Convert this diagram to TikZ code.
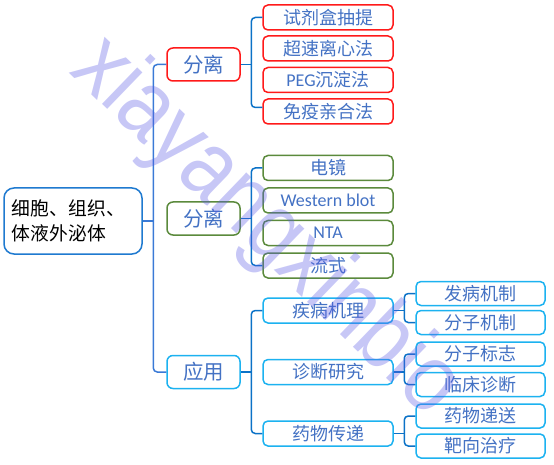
\documentclass[tikz,border=0pt]{standalone}
\usepackage{fontspec}
\usetikzlibrary{calc}
\setmainfont{Carlito}
\newfontfamily\cjk{Noto Sans CJK SC}
\newfontfamily\wmfont{Liberation Sans}
\definecolor{txtblue}{HTML}{4472C4}
\definecolor{bxred}{HTML}{FF1A1A}
\definecolor{bxgreen}{HTML}{5B8A3C}
\definecolor{bxcyan}{HTML}{1CB2F0}
\definecolor{bxroot}{HTML}{1F7AD0}
\definecolor{brmain}{HTML}{3A7AD6}
\definecolor{brsub}{HTML}{0B72C7}
\definecolor{wmcol}{HTML}{5A5AE6}
\tikzset{
  rootbox/.style={draw=bxroot, line width=1.5pt, rounded corners=10pt, fill=white,
    minimum width=138pt, minimum height=66pt, inner sep=0pt, align=left, text width=122pt,
    font=\cjk\fontsize{18.8}{25}\selectfont, text=black},
  lonebox/.style={line width=1.5pt, rounded corners=6pt, fill=white,
    minimum width=73pt, minimum height=33pt, inner sep=0pt,
    font=\cjk\fontsize{20.5}{24}\selectfont, text=txtblue},
  ltwobox/.style={line width=1.5pt, rounded corners=5pt, fill=white,
    minimum width=130pt, minimum height=25pt, inner sep=0pt,
    font=\cjk\fontsize{18}{20}\selectfont, text=txtblue},
  lthreebox/.style={draw=bxcyan, line width=1.5pt, rounded corners=5pt, fill=white,
    minimum width=129pt, minimum height=24pt, inner sep=0pt,
    font=\cjk\fontsize{18}{20}\selectfont, text=txtblue},
  latin/.style={font=\fontsize{18}{20}\selectfont},
  brm/.style={draw=brmain, line width=1.5pt, rounded corners=4pt},
  brs/.style={draw=brsub, line width=1.5pt, rounded corners=4pt},
}
\begin{document}
\begin{tikzpicture}[x=1pt,y=-1pt]
\useasboundingbox (0,0) rectangle (554,465);
% root
\node[rootbox] (root) at (73,221) {细胞、组织、\\体液外泌体};
% level 1
\node[lonebox, draw=bxred] (sep1) at (203.5,64.5) {分离};
\node[lonebox, draw=bxgreen] (sep2) at (203.5,218.5) {分离};
\node[lonebox, draw=bxcyan] (app) at (203.5,372) {应用};
% level 2 red
\node[ltwobox, draw=bxred] (r1) at (328,17.5) {试剂盒抽提};
\node[ltwobox, draw=bxred] (r2) at (328,48.5) {超速离心法};
\node[ltwobox, draw=bxred] (r3) at (328,80) {{\fontspec{Carlito}PEG}沉淀法};
\node[ltwobox, draw=bxred] (r4) at (328,111.5) {免疫亲合法};
% level 2 green
\node[ltwobox, draw=bxgreen] (g1) at (328,168) {电镜};
\node[ltwobox, draw=bxgreen, latin] (g2) at (328,200.5) {Western blot};
\node[ltwobox, draw=bxgreen, latin] (g3) at (328,233) {NTA};
\node[ltwobox, draw=bxgreen] (g4) at (328,265.5) {流式};
% level 2 cyan
\node[ltwobox, draw=bxcyan] (c1) at (328,310.5) {疾病机理};
\node[ltwobox, draw=bxcyan] (c2) at (328,372) {诊断研究};
\node[ltwobox, draw=bxcyan] (c3) at (328,433.5) {药物传递};
% level 3
\node[lthreebox] (d1) at (480.5,293.5) {发病机制};
\node[lthreebox] (d2) at (480.5,322.5) {分子机制};
\node[lthreebox] (d3) at (480.5,354) {分子标志};
\node[lthreebox] (d4) at (480.5,384.5) {临床诊断};
\node[lthreebox] (d5) at (480.5,416) {药物递送};
\node[lthreebox] (d6) at (480.5,446) {靶向治疗};
% main bracket
\coordinate (mtop) at ($(sep1.west)+(-13,0)$);
\draw[brm] (sep1.west) -- (mtop) |- (app.west);
\draw[brm] (root.east) -- (root.east -| mtop);
% red bracket
\coordinate (rtop) at ($(r1.west)+(-11,0)$);
\coordinate (rbot) at ($(r4.west)+(0,-4)$);
\draw[brs] (r1.west) -- (rtop) |- (rbot);
\draw[brs] (sep1.east) -- (sep1.east -| rtop);
% green bracket
\coordinate (gtop) at ($(g1.west)+(-11,0)$);
\draw[brs] (g1.west) -- (gtop) |- (g4.west);
\draw[brs] (sep2.east) -- (sep2.east -| gtop);
% cyan bracket
\coordinate (ctop) at ($(c1.west)+(-11,0)$);
\draw[brs] (c1.west) -- (ctop) |- (c3.west);
\draw[brs] (app.east) -- (app.east -| ctop);
% level 3 brackets
\coordinate (e1) at ($(d1.west)+(-11,0)$);
\draw[brs] (d1.west) -- (e1) |- (d2.west);
\draw[brs] (c1.east) -- (c1.east -| e1);
\coordinate (e2) at ($(d3.west)+(-11,0)$);
\draw[brs] (d3.west) -- (e2) |- (d4.west);
\draw[brs] (c2.east) -- (c2.east -| e2);
\coordinate (e3) at ($(d5.west)+(-11,0)$);
\draw[brs] (d5.west) -- (e3) |- (d6.west);
\draw[brs] (c3.east) -- (c3.east -| e3);
% watermark
\node[rotate=-44, text=wmcol, opacity=0.34, inner sep=0pt,
  font=\wmfont\fontsize{96}{96}\selectfont] (wm) at (266,228) {\scalebox{0.86}[1]{xiayangxinbio}};
\end{tikzpicture}
\end{document}
